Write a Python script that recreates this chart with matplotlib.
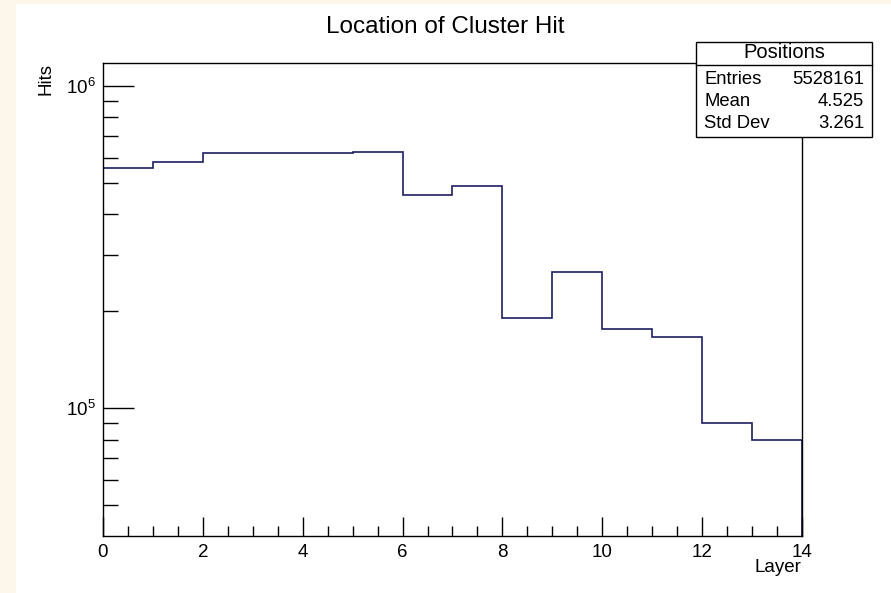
import numpy as np
import matplotlib
matplotlib.use('Agg')
import matplotlib.pyplot as plt
import matplotlib.patches as patches
from matplotlib.ticker import FixedLocator, NullFormatter

plt.rcParams['font.family'] = ['Liberation Sans', 'DejaVu Sans']
plt.rcParams['mathtext.fontset'] = 'custom'
plt.rcParams['mathtext.rm'] = 'Liberation Sans'
plt.rcParams['mathtext.it'] = 'Liberation Sans'
plt.rcParams['mathtext.default'] = 'regular'

# histogram contents, one per layer bin
bin_edges = np.arange(0, 15)
hits = [557500, 579400, 618000, 618000, 618000, 622600, 458600,
        489100, 190300, 264500, 175900, 166200, 90000, 79900]

title = 'Location of Cluster Hit'
xlabel = 'Layer'
ylabel = 'Hits'
stats_name = 'Positions'
stats_rows = [('Entries', '5528161'), ('Mean', '4.525'), ('Std Dev', '3.261')]

W, H = 891, 593
fig = plt.figure(figsize=(W / 100, H / 100), dpi=100, facecolor='#fcf7ea')
# white canvas, cream strip on the left/top
fig.patches.append(patches.Rectangle((16 / W, 0), 1, 1 - 4 / H, transform=fig.transFigure,
                                     facecolor='white', edgecolor='none', zorder=-10))

ax = fig.add_axes([103 / W, (H - 536) / H, (802 - 103) / W, (536 - 63) / H])
ax.set_zorder(1)
ax.set_facecolor('white')
ax.stairs(hits, bin_edges, color='#1e1e64', linewidth=1.2)

ax.set_yscale('log')
ax.set_xlim(0, 14)
ax.set_ylim(4.018e4, 1.179e6)

for s in ax.spines.values():
    s.set_linewidth(1.0)
    s.set_color('black')

ax.xaxis.set_major_locator(FixedLocator(np.arange(0, 15, 2)))
ax.xaxis.set_minor_locator(FixedLocator(np.arange(0, 14.01, 0.5)))
ax.yaxis.set_major_locator(FixedLocator([1e5, 1e6]))
ax.yaxis.set_minor_locator(FixedLocator([k * 1e4 for k in range(2, 10)] + [k * 1e5 for k in range(2, 10)]))
ax.yaxis.set_minor_formatter(NullFormatter())
ax.set_yticklabels(['$10^{5}$', '$10^{6}$'])
ax.tick_params(axis='x', which='major', direction='in', length=14, width=1, labelsize=13.5, pad=6)
ax.tick_params(axis='x', which='minor', direction='in', length=7, width=1)
ax.tick_params(axis='y', which='major', direction='in', length=22, width=1, labelsize=13.5, pad=5)
ax.tick_params(axis='y', which='minor', direction='in', length=11, width=1)

fig.text(445 / W, 1 - 27 / H, title, ha='center', va='center', fontsize=17.5)
fig.text(801 / W, 1 - 567 / H, xlabel, ha='right', va='center', fontsize=13.5)
fig.text(45.5 / W, 1 - 63 / H, ylabel, ha='center', va='top', rotation=90, fontsize=13.5)

# stats box
bx0, bx1, by0, by1, bsep = 696, 872, 42, 137, 65
fig.patches.append(patches.Rectangle((bx0 / W, 1 - by1 / H), (bx1 - bx0) / W, (by1 - by0) / H,
                                     transform=fig.transFigure, facecolor='white',
                                     edgecolor='black', linewidth=1.0, zorder=5))
fig.add_artist(plt.Line2D([bx0 / W, bx1 / W], [1 - bsep / H, 1 - bsep / H],
                          transform=fig.transFigure, color='black', linewidth=1.0, zorder=6))
fig.text((bx0 + bx1) / 2 / W, 1 - 53 / H, stats_name, ha='center', va='center', fontsize=14.5, zorder=7)
for i, (k, v) in enumerate(stats_rows):
    yy = 1 - (80 + 21.5 * i) / H
    fig.text(704 / W, yy, k, ha='left', va='center', fontsize=13.3, zorder=7)
    fig.text(864 / W, yy, v, ha='right', va='center', fontsize=13.3, zorder=7)

fig.savefig('out.png', dpi=100, facecolor=fig.get_facecolor())
